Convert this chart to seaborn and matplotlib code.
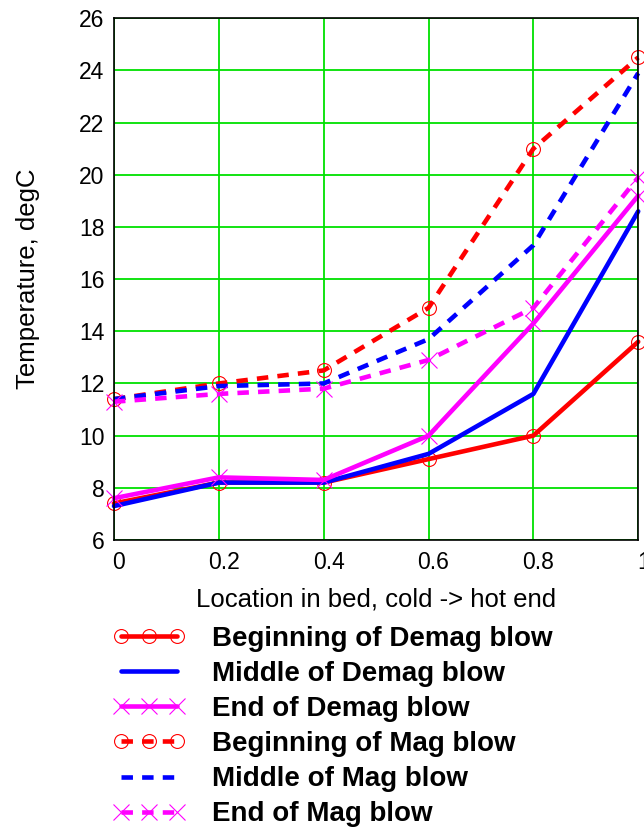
import seaborn as sns
import pandas as pd
from matplotlib import pyplot as plt
from matplotlib.transforms import ScaledTranslation

# location in bed (cold -> hot)
loc = [0, 0.2, 0.4, 0.6, 0.8, 1.0]

# temperatures, degC
begin_demag = [7.4, 8.2, 8.2, 9.1, 10.0, 13.6]
middle_demag = [7.3, 8.2, 8.2, 9.3, 11.6, 18.6]
end_demag = [7.6, 8.4, 8.3, 10.0, 14.3, 19.2]
begin_mag = [11.4, 12.0, 12.5, 14.9, 21.0, 24.5]
middle_mag = [11.4, 11.9, 12.0, 13.7, 17.3, 23.9]
end_mag = [11.3, 11.6, 11.8, 12.9, 14.9, 19.9]

labels = ["Beginning of Demag blow", "Middle of Demag blow", "End of Demag blow",
          "Beginning of Mag blow", "Middle of Mag blow", "End of Mag blow"]
series = [begin_demag, middle_demag, end_demag, begin_mag, middle_mag, end_mag]

sns.set_style("white")
plt.rcParams['font.family'] = ['Liberation Sans', 'DejaVu Sans']
plt.rcParams['text.color'] = 'black'
plt.rcParams['xtick.color'] = 'black'
plt.rcParams['ytick.color'] = 'black'
plt.rcParams['axes.labelcolor'] = 'black'

fig = plt.figure(figsize=(6.44, 8.32), dpi=100)
ax = fig.add_axes([0.177, 0.351, 0.814, 0.627])

dash = (0, (2.5, 2))
styles = [
    ("#ff0000", "-", "o"),
    ("#0000ff", "-", None),
    ("#ff00ff", "-", "x"),
    ("#ff0000", dash, "o"),
    ("#0000ff", dash, None),
    ("#ff00ff", dash, "x"),
]

for lab, vals, (col, ls, mk) in zip(labels, series, styles):
    kw = dict(color=col, linestyle=ls, linewidth=3.3, label=lab)
    if mk == "o":
        kw.update(marker="o", markersize=10, markerfacecolor="none",
                  markeredgecolor=col, markeredgewidth=0.8)
    elif mk == "x":
        kw.update(marker="x", markersize=12, markeredgecolor=col,
                  markeredgewidth=0.8)
    df = pd.DataFrame({"loc": loc, "temp": vals})
    sns.lineplot(data=df, x="loc", y="temp", ax=ax, clip_on=False, **kw)

ax.set_xlim(0, 1)
ax.set_ylim(6, 26)
ax.set_xticks([0, 0.2, 0.4, 0.6, 0.8, 1])
ax.set_xticklabels(["0", "0.2", "0.4", "0.6", "0.8", "1"])
ax.set_yticks(range(6, 27, 2))
ax.grid(True, color="#00e000", linewidth=1.3)
ax.set_axisbelow(True)
for sp in ax.spines.values():
    sp.set_color("black")
    sp.set_linewidth(1.2)
ax.tick_params(length=0, labelsize=16.5)
ax.tick_params(axis="y", pad=7)
ax.tick_params(axis="x", pad=8)
shift = ScaledTranslation(0.05, 0, fig.dpi_scale_trans)
for t in ax.get_xticklabels():
    t.set_transform(t.get_transform() + shift)
ax.set_xlabel("Location in bed, cold -> hot end", fontsize=18.5, labelpad=10)
ax.set_ylabel("Temperature, degC", fontsize=18.5, labelpad=28)

ax.legend(loc="upper left", bbox_to_anchor=(0.1755, 0.248),
          bbox_transform=fig.transFigure, frameon=False, borderpad=0,
          numpoints=3, handlelength=2.6, handletextpad=0.95, labelspacing=0.33,
          prop={"weight": "bold", "size": 20}, borderaxespad=0)

fig.savefig("out.png", dpi=100)
